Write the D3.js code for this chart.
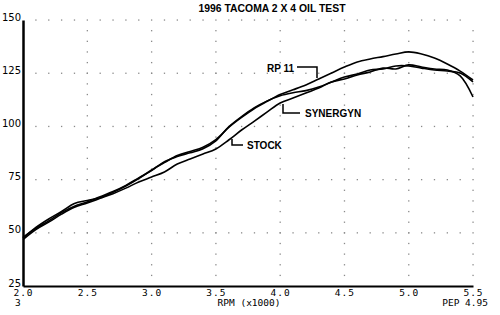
<!DOCTYPE html>
<html lang="en">
<head>
    <meta charset="UTF-8">
    <script src="https://d3js.org/d3.v7.min.js"></script>
    <style>
        body { margin: 0; background: #fff; }
        text { font-family: "Liberation Sans", Arial, sans-serif; }
        .mono { font-family: "DejaVu Sans Mono", monospace; }
    </style>
</head>
<body>
    <svg id="chart" width="500" height="315"></svg>
    <script>
        // rpm (x1000), one point every 0.1
        const rpm = d3.range(36).map(i => +(2 + i * 0.1).toFixed(1));

        const rp11 = [47.5, 52.5, 56.5, 60.0, 63.8, 65.2, 66.5, 69.0, 72.0, 75.5,
                      79.5, 83.0, 86.3, 88.2, 90.2, 93.8, 99.5, 104.2, 108.4, 111.8,
                      115.0, 117.2, 119.5, 122.3, 125.1, 127.9, 130.3, 131.7, 132.8, 134.0,
                      135.0, 134.0, 132.1, 129.3, 126.0, 121.8];
        const synergyn = [47.8, 52.0, 55.6, 59.5, 62.5, 64.5, 67.0, 69.4, 72.3, 75.8,
                          79.2, 83.4, 85.8, 87.6, 89.5, 93.2, 99.8, 104.6, 108.8, 112.0,
                          114.4, 115.8, 116.8, 118.5, 120.9, 123.2, 124.6, 126.5, 127.0, 128.4,
                          128.4, 127.4, 126.5, 126.0, 125.1, 120.9];
        const stock = [46.8, 51.5, 55.0, 58.8, 62.0, 64.0, 66.2, 68.4, 71.0, 73.9,
                       76.2, 78.6, 82.3, 84.7, 87.0, 89.4, 93.6, 98.3, 102.5, 106.8,
                       111.0, 113.3, 115.7, 118.0, 120.9, 122.3, 124.2, 125.6, 127.4, 127.0,
                       128.9, 127.9, 127.0, 126.5, 123.7, 113.8];

        const xTicks = [2.0, 2.5, 3.0, 3.5, 4.0, 4.5, 5.0, 5.5];
        const yTicks = [25, 50, 75, 100, 125, 150];

        const svg = d3.select("#chart");

        const x = d3.scaleLinear().domain([2, 5.5]).range([23, 473]);
        const y = d3.scaleLinear().domain([25, 150]).range([286, 20]);

        // title
        svg.append("text")
            .attr("x", 272)
            .attr("y", 12)
            .attr("text-anchor", "middle")
            .attr("textLength", 147)
            .attr("lengthAdjust", "spacingAndGlyphs")
            .style("font-size", "11.5px")
            .style("font-weight", "bold")
            .text("1996 TACOMA 2 X 4 OIL TEST");

        // dotted grid: rows every 0.1 rpm, columns every 5 units
        const grid = svg.append("g").attr("fill", "#8a8a8a");
        yTicks.slice(1).forEach(v => {
            d3.range(2.1, 5.45, 0.1).forEach(r => {
                grid.append("rect").attr("x", x(r) - 0.6).attr("y", y(v) - 0.6)
                    .attr("width", 1.3).attr("height", 1.3);
            });
        });
        xTicks.slice(1).forEach(r => {
            d3.range(30, 150, 5).forEach(v => {
                grid.append("rect").attr("x", x(r) - 0.6).attr("y", y(v) - 0.6)
                    .attr("width", 1.3).attr("height", 1.3);
            });
        });

        // axes
        const yAxis = svg.append("g")
            .attr("transform", `translate(${x(2)},0)`)
            .call(d3.axisLeft(y).tickValues(yTicks).tickSize(0).tickPadding(2).tickSizeOuter(0));
        yAxis.select(".domain").attr("stroke-width", 2.5);
        yAxis.selectAll("text").style("font-size", "10px").style("font-family", "DejaVu Sans, sans-serif")
            .attr("dy", "0.3em").attr("y", -3);

        const xAxis = svg.append("g")
            .attr("transform", `translate(0,${y(25)})`)
            .call(d3.axisBottom(x).tickValues(xTicks).tickSize(0).tickPadding(3).tickSizeOuter(0)
                .tickFormat(d3.format(".1f")));
        xAxis.select(".domain").attr("stroke-width", 2);
        xAxis.selectAll("text").attr("class", "mono").style("font-size", "9.5px")
            .style("letter-spacing", "1px");

        svg.append("text").attr("class", "mono").attr("x", 249).attr("y", 306)
            .attr("text-anchor", "middle").style("font-size", "9.5px").text("RPM (x1000)");
        svg.append("text").attr("class", "mono").attr("x", 15).attr("y", 306)
            .style("font-size", "9.5px").text("3");
        svg.append("text").attr("class", "mono").attr("x", 488).attr("y", 306)
            .attr("text-anchor", "end").style("font-size", "9.5px").text("PEP 4.95");

        // curves
        const line = d3.line()
            .x((d, i) => x(rpm[i]))
            .y(d => y(d))
            .curve(d3.curveCatmullRom);

        [stock, synergyn, rp11].forEach(s => {
            svg.append("path")
                .attr("d", line(s))
                .attr("fill", "none")
                .attr("stroke", "#000")
                .attr("stroke-width", 1.6);
        });

        // labels with leaders
        const lab = svg.append("g");
        lab.append("path").attr("d", "M297,67H317V78").attr("fill", "none").attr("stroke", "#000").attr("stroke-width", 1.5);
        lab.append("text").attr("x", 267).attr("y", 72).style("font-size", "10px").style("font-weight", "bold").text("RP 11");
        lab.append("path").attr("d", "M283,104V113H300").attr("fill", "none").attr("stroke", "#000").attr("stroke-width", 1.5);
        lab.append("text").attr("x", 305).attr("y", 117).style("font-size", "10px").style("font-weight", "bold").text("SYNERGYN");
        lab.append("path").attr("d", "M232,139V145H243").attr("fill", "none").attr("stroke", "#000").attr("stroke-width", 1.5);
        lab.append("text").attr("x", 247).attr("y", 149).style("font-size", "10px").style("font-weight", "bold").text("STOCK");
    </script>
</body>
</html>
